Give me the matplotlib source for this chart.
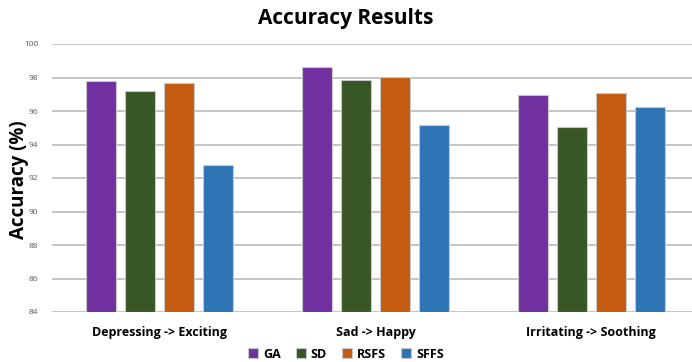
import numpy as np
import matplotlib
matplotlib.use("Agg")
from matplotlib import pyplot as plt

categories = ["Depressing -> Exciting", "Sad -> Happy", "Irritating -> Soothing"]
methods = ["GA", "SD", "RSFS", "SFFS"]
ga = [97.81, 98.63, 96.94]
sd = [97.19, 97.85, 95.06]
rsfs = [97.67, 98.05, 97.07]
sffs = [92.78, 95.16, 96.24]
colors = ["#7030a0", "#375623", "#c55a11", "#2e75b6"]

plt.rcParams["font.family"] = ["Open Sans", "DejaVu Sans"]

fig = plt.figure(figsize=(6.92, 3.62), dpi=100)
ax = fig.add_axes([52 / 692, 1 - 312 / 362, 1 - 52 / 692, 268 / 362])

x = np.arange(len(categories))
width = 30 / 215.5
step = 39 / 215.5
for i, (name, vals) in enumerate(zip(methods, [ga, sd, rsfs, sffs])):
    ax.bar(x + (i - 1.5) * step, np.array(vals) - 84, bottom=84, width=width,
           color=colors[i], edgecolor="#c8c8c8", linewidth=0.8, label=name, zorder=3)

ax.set_ylim(84, 100)
ax.set_xlim(-0.5, 2.5 - 7 / 215.5)
ax.set_yticks(np.arange(84, 101, 2))
ax.yaxis.grid(True, color="#bfbfbf", linewidth=1.3, zorder=0)
ax.tick_params(axis="y", length=0, labelsize=6, labelcolor="#595959", pad=10)
ax.tick_params(axis="x", length=0, pad=10)
ax.set_xticks(x)
ax.set_xticklabels(categories, fontsize=9, fontweight="bold")
for s in ax.spines.values():
    s.set_visible(False)

# y label placed by hand, the axes start close to the left edge
fig.text(19 / 692, 1 - 180 / 362, "Accuracy (%)", rotation=90, ha="center",
         va="center", fontsize=13.5, fontweight="bold")
fig.text(0.5, 0.95, "Accuracy Results", ha="center", va="center",
         fontsize=15, fontweight="bold")
fig.legend(loc="center", bbox_to_anchor=(0.5, 1 - 354 / 362), ncol=4, frameon=False,
           prop={"weight": "bold", "size": 9}, handlelength=0.8,
           handleheight=0.8, handletextpad=0.4, columnspacing=1.2)

fig.savefig("out.png", dpi=100)
